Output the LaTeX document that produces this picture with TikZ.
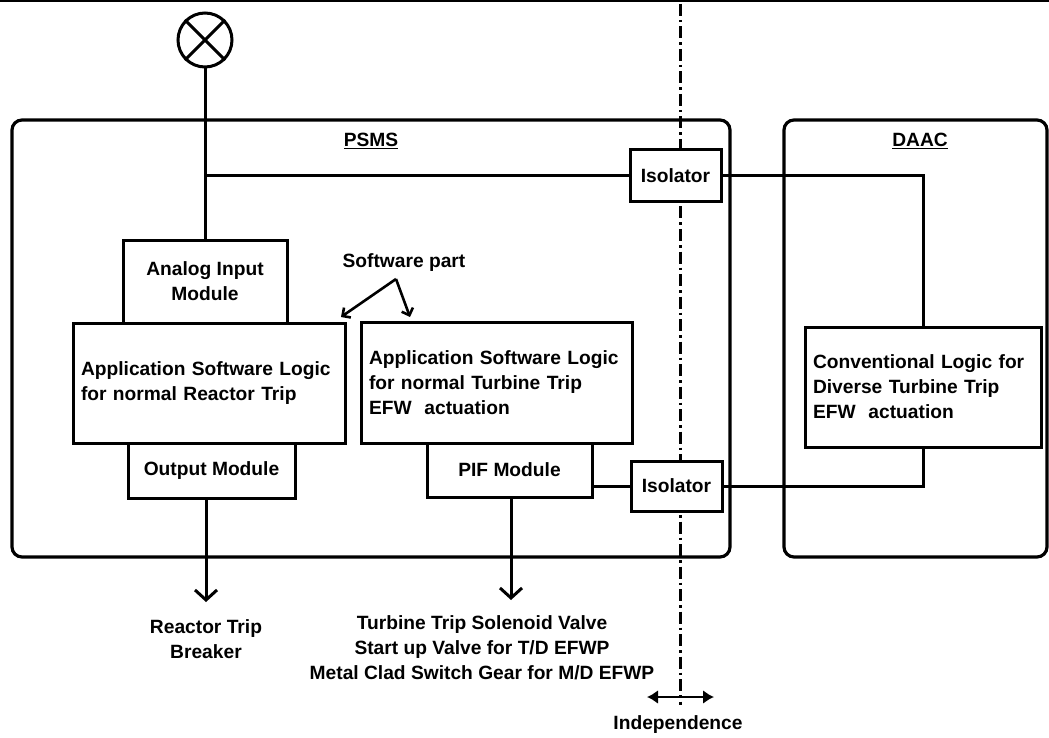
\documentclass[tikz,border=0pt]{standalone}
\usepackage{fontspec}
\setmainfont{Liberation Sans}
\usetikzlibrary{arrows.meta}
\begin{document}
\begin{tikzpicture}[x=1pt,y=-1pt,
  box/.style={draw,line width=3pt,fill=white,inner sep=0pt,font=\bfseries\fontsize{19.2}{25}\selectfont},
  container/.style={draw,line width=3.2pt,rounded corners=10pt,inner sep=0pt},
  lbl/.style={inner sep=0pt,font=\bfseries\fontsize{19.2}{25}\selectfont,align=center},
  wire/.style={line width=3pt},
  outarrow/.style={line width=3pt,-{Straight Barb[length=10pt,width=22pt]}},
  swarrow/.style={line width=2.6pt,-{Straight Barb[length=6pt,width=12pt]}},
  indarrow/.style={line width=2.6pt,{Latex[length=11pt,width=14pt]}-{Latex[length=11pt,width=14pt]}},
  divider/.style={line width=3pt,dash pattern=on 12pt off 4pt on 2.5pt off 4pt}
]
\useasboundingbox (0,0) rectangle (1049,738);
\draw[line width=1.5pt] (0,1) -- (1049,1);

% containers
\node[container,minimum width=718pt,minimum height=437pt] (psms) at (371,338.5) {};
\node[container,minimum width=263pt,minimum height=437pt] (daac) at (915.5,338.5) {};
\node[lbl] (psmsl) at (371,141) {\underline{PSMS}};
\node[lbl] (daacl) at (920,141) {\underline{DAAC}};

% independence divider
\coordinate (dtop) at (680,4);
\coordinate (dbot) at (680,705);
\draw[divider] (dtop) -- (dbot);

% sensor
\node[draw,circle,line width=3pt,minimum size=54pt,inner sep=0pt] (sens) at (205,40) {};
\draw[line width=3pt] (sens.north west) -- (sens.south east);
\draw[line width=3pt] (sens.north east) -- (sens.south west);

% modules
\node[box,minimum width=164pt,minimum height=83pt,align=center] (ai) at (205,281.5) {Analog Input\\Module};
\node[box,minimum width=272pt,minimum height=120pt,text width=256pt,align=left] (rt) at (209,383) {Application Software Logic\\for normal Reactor Trip};
\node[box,minimum width=167pt,minimum height=55pt] (om) at (211.5,470.5) {Output Module};
\node[box,minimum width=271pt,minimum height=121pt,text width=255pt,align=left] (tt) at (496.5,382.5) {Application Software Logic\\for normal Turbine Trip\\EFW\ \ actuation};
\node[box,minimum width=165pt,minimum height=54pt] (pif) at (509.5,470) {PIF Module};
\node[box,minimum width=236pt,minimum height=120pt,text width=220pt,align=left] (cl) at (923,387) {Conventional Logic for\\Diverse Turbine Trip\\EFW\ \ actuation};
\node[box,minimum width=91pt,minimum height=52pt] (iso1) at (675.5,176) {Isolator};
\node[box,minimum width=91pt,minimum height=50pt] (iso2) at (676.5,486) {Isolator};

% wiring
\coordinate (j1) at (205,176);
\draw[wire] (sens.south) -- (ai.north);
\draw[wire] (j1) -- (iso1.west);
\draw[wire] (iso1.east) -- (iso1.east -| cl.north) -- (cl.north);
\draw[wire] (pif.east |- iso2.west) -- (iso2.west);
\draw[wire] (iso2.east) -- (iso2.east -| cl.south) -- (cl.south);

% software part
\node[lbl] (sw) at (404,263) {Software part};
\coordinate (swa) at (396,279);
\coordinate (swr) at (341,317);
\coordinate (swt) at (410,317);
\draw[swarrow] (swa) -- (swr);
\draw[swarrow] (swa) -- (swt);

% outputs
\coordinate (bk) at (206,602);
\coordinate (tv) at (511,600);
\draw[outarrow] (om.south -| bk) -- (bk);
\draw[outarrow] (pif.south -| tv) -- (tv);
\node[lbl] (breaker) at (206,639) {Reactor Trip\\Breaker};
\node[lbl] (valves) at (482,648) {Turbine Trip Solenoid Valve\\Start up Valve for T/D EFWP\\Metal Clad Switch Gear for M/D EFWP};

% independence
\coordinate (il) at (647,697);
\coordinate (ir) at (714,697);
\draw[indarrow] (il) -- (ir);
\node[lbl] (ind) at (678,725) {Independence};
\end{tikzpicture}
\end{document}
